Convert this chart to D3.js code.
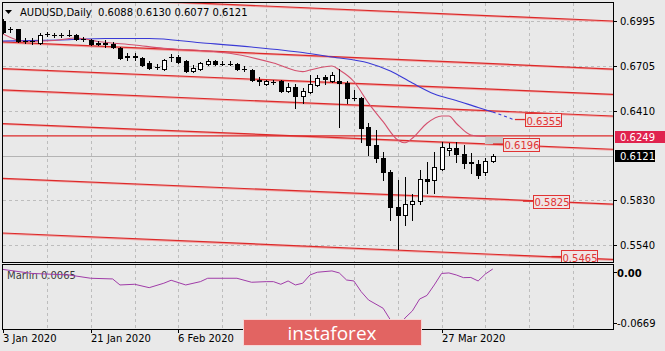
<!DOCTYPE html>
<html>
<head>
<meta charset="utf-8">
<script src="https://cdnjs.cloudflare.com/ajax/libs/d3/7.8.5/d3.min.js"></script>
<style>
    html, body { margin: 0; padding: 0; background: #e9e9e9; }
    svg { display: block; font-family: "DejaVu Sans", sans-serif; }
</style>
</head>
<body>
<div id="chart"></div>
<script>
// daily bars, AUDUSD
const dates = ["2020-01-03","2020-01-06","2020-01-07","2020-01-08","2020-01-09","2020-01-10","2020-01-13","2020-01-14","2020-01-15","2020-01-16",
    "2020-01-17","2020-01-20","2020-01-21","2020-01-22","2020-01-23","2020-01-24","2020-01-27","2020-01-28","2020-01-29","2020-01-30",
    "2020-01-31","2020-02-03","2020-02-04","2020-02-05","2020-02-06","2020-02-07","2020-02-10","2020-02-11","2020-02-12","2020-02-13",
    "2020-02-14","2020-02-17","2020-02-18","2020-02-19","2020-02-20","2020-02-21","2020-02-24","2020-02-25","2020-02-26","2020-02-27",
    "2020-02-28","2020-03-02","2020-03-03","2020-03-04","2020-03-05","2020-03-06","2020-03-09","2020-03-10","2020-03-11","2020-03-12",
    "2020-03-13","2020-03-16","2020-03-17","2020-03-18","2020-03-19","2020-03-20","2020-03-23","2020-03-24","2020-03-25","2020-03-26",
    "2020-03-27","2020-03-30","2020-03-31","2020-04-01","2020-04-02","2020-04-03","2020-04-06","2020-04-07"];

const open = [0.6995,0.6943,0.6940,0.6868,0.6865,0.6852,0.6911,0.6905,0.6904,0.6905,
    0.6901,0.6878,0.6874,0.6849,0.6849,0.6848,0.6820,0.6765,0.6765,0.6753,
    0.6724,0.6699,0.6681,0.6761,0.6761,0.6735,0.6670,0.6683,0.6716,0.6735,
    0.6717,0.6717,0.6716,0.6685,0.6677,0.6605,0.6586,0.6602,0.6607,0.6540,
    0.6564,0.6508,0.6536,0.6579,0.6629,0.6607,0.6605,0.6590,0.6495,0.6493,
    0.6309,0.6190,0.6103,0.6016,0.5789,0.5735,0.5806,0.5828,0.5969,0.5962,
    0.6032,0.6157,0.6168,0.6131,0.6076,0.6064,0.6012,0.6088];
const high = [0.7008,0.6956,0.6946,0.6885,0.6883,0.6915,0.6925,0.6918,0.6918,0.6936,
    0.6911,0.6891,0.6881,0.6862,0.6874,0.6859,0.6826,0.6784,0.6787,0.6761,
    0.6732,0.6716,0.6748,0.6781,0.6774,0.6742,0.6709,0.6729,0.6745,0.6742,
    0.6735,0.6735,0.6722,0.6703,0.6683,0.6631,0.6612,0.6615,0.6615,0.6590,
    0.6584,0.6560,0.6647,0.6644,0.6644,0.6662,0.6685,0.6607,0.6547,0.6501,
    0.6331,0.6287,0.6144,0.6027,0.5962,0.5984,0.5871,0.6027,0.6081,0.6146,
    0.6211,0.6203,0.6211,0.6190,0.6136,0.6092,0.6103,0.6130];
const low = [0.6917,0.6924,0.6859,0.6852,0.6846,0.6846,0.6895,0.6891,0.6891,0.6898,
    0.6874,0.6865,0.6839,0.6836,0.6824,0.6820,0.6748,0.6742,0.6742,0.6703,
    0.6683,0.6683,0.6674,0.6735,0.6720,0.6662,0.6664,0.6674,0.6709,0.6709,
    0.6706,0.6709,0.6677,0.6670,0.6605,0.6579,0.6579,0.6589,0.6534,0.6532,
    0.6432,0.6464,0.6527,0.6573,0.6586,0.6602,0.6309,0.6464,0.6482,0.6211,
    0.6125,0.6076,0.5962,0.5702,0.5512,0.5667,0.5702,0.5806,0.5876,0.5876,
    0.6027,0.6125,0.6081,0.6038,0.6006,0.5973,0.5995,0.6077];
const close = [0.6926,0.6940,0.6865,0.6865,0.6862,0.6906,0.6908,0.6903,0.6902,0.6902,
    0.6879,0.6876,0.6846,0.6847,0.6846,0.6826,0.6755,0.6761,0.6761,0.6709,
    0.6688,0.6696,0.6742,0.6759,0.6726,0.6670,0.6690,0.6722,0.6737,0.6716,
    0.6714,0.6714,0.6683,0.6682,0.6612,0.6612,0.6605,0.6599,0.6540,0.6568,
    0.6510,0.6540,0.6586,0.6623,0.6616,0.6644,0.6592,0.6493,0.6492,0.6298,
    0.6190,0.6103,0.6016,0.5789,0.5735,0.5804,0.5827,0.5969,0.5958,0.6045,
    0.6175,0.6168,0.6131,0.6071,0.6070,0.5995,0.6086,0.6121];

// slow moving average (blue), read at some bars
const blueIdx = [0, 8, 14, 20, 27, 34, 41, 45, 50, 53, 56, 59, 62, 65, 67];
const blueVal = [0.6865,0.6872,0.6881,0.6881,0.6854,0.6826,0.6790,0.6761,0.6722,0.6670,0.6592,0.6521,0.6479,0.6433,0.6404];
const blueFutIdx = [67, 68, 70];
const blueFutVal = [0.6404, 0.6388, 0.6352];

// fast moving average (pink)
const pinkIdx = [0, 3, 7, 10, 13, 18, 22, 27, 31, 37, 41, 42, 45, 46, 48, 50, 52, 54, 55, 56, 58, 60, 61, 62, 64, 66];
const pinkVal = [0.6911,0.6862,0.6868,0.6885,0.6862,0.6839,0.6818,0.6803,0.6785,0.6722,0.6666,0.6677,0.6703,0.6677,0.6602,
    0.6462,0.6341,0.6222,0.6204,0.6233,0.6331,0.6378,0.6378,0.6331,0.6255,0.6245];

// channel lines: price at first bar and at the right edge
const channelStart = [0.7166, 0.6859, 0.6686, 0.6547, 0.6329, 0.5973, 0.5618];
const channelEnd   = [0.6995, 0.6683, 0.6519, 0.6378, 0.6162, 0.5806, 0.5446];
const levelPrice = 0.6249;

// target labels
const targetPrice = [0.6355, 0.6196, 0.5825, 0.5465];
const targetIdx = [71.4, 68.4, 72.5, 76.4];

// Marlin oscillator
const marlinIdx = [0,4,9,12,15,16,18,20,22,23,25,27,28,32,34,36,37,38,39,40,41,42,43,45,46,47,48,49,50,52,53,54,55,56,57,58,59,60,61,62,63,64,65,66,67];
const marlinVal = [0.0014,-0.0032,-0.0049,-0.0087,-0.0095,-0.0164,-0.0156,-0.0195,-0.0144,-0.0110,-0.0164,-0.0126,-0.0087,-0.0087,-0.0133,
    -0.0126,-0.0126,-0.0156,-0.0118,-0.0164,-0.0144,-0.0049,-0.0018,-0.0003,-0.0026,-0.0107,-0.0118,-0.0241,-0.0336,-0.0431,
    -0.0565,-0.0669,-0.0542,-0.0462,-0.0325,-0.0284,-0.0164,-0.0032,-0.0026,-0.0049,-0.0080,-0.0078,-0.0118,-0.0038,0.0019];

const priceTicks = [0.6995, 0.6705, 0.6410, 0.6120, 0.5830, 0.5540];
const priceTickLabels = ["0.6995", "0.6705", "0.6410", "", "0.5830", "0.5540"];
// date labels that are not covered by the watermark
const dateTickIdx = [0, 12, 24, 60];
const dateTickLabels = ["3 Jan 2020", "21 Jan 2020", "6 Feb 2020", "27 Mar 2020"];
const bidPrice = 0.6121;
const header = "AUDUSD,Daily  0.6088 0.6130 0.6077 0.6121";

const W = 665, H = 351;
const plot = { left: 3, right: 613, top: 3, bottom: 262 };
const pane = { top: 265, bottom: 329 };
const visibleBars = 83.45;

const svg = d3.select("#chart").append("svg").attr("width", W).attr("height", H);
svg.append("rect").attr("width", W).attr("height", H).attr("fill", "#e9e9e9");

const x = d3.scaleLinear().domain([0, visibleBars]).range([plot.left, plot.right]);
const y = d3.scaleLinear().domain([0.5540, 0.6995]).range([245, 21]);
const yInd = d3.scaleLinear().domain([-0.0669, 0.0065]).range([pane.bottom, pane.top]);

const defs = svg.append("defs");
defs.append("clipPath").attr("id", "clipMain").append("rect")
    .attr("x", plot.left).attr("y", plot.top).attr("width", plot.right - plot.left).attr("height", plot.bottom - plot.top);
defs.append("clipPath").attr("id", "clipPane").append("rect")
    .attr("x", plot.left).attr("y", pane.top).attr("width", plot.right - plot.left).attr("height", pane.bottom - pane.top);

// grid
const gridIdx = d3.range(6, visibleBars, 6);
const grid = svg.append("g").attr("stroke", "#bdbdbd").attr("stroke-dasharray", "3,3").attr("stroke-width", 1);
gridIdx.forEach(i => {
    const gx = Math.round(x(i)) + 0.5;
    grid.append("line").attr("x1", gx).attr("x2", gx).attr("y1", plot.top).attr("y2", plot.bottom);
    grid.append("line").attr("x1", gx).attr("x2", gx).attr("y1", pane.top).attr("y2", pane.bottom);
});
priceTicks.forEach(p => {
    const gy = Math.round(y(p)) + 0.5;
    grid.append("line").attr("x1", plot.left).attr("x2", plot.right).attr("y1", gy).attr("y2", gy);
});

const main = svg.append("g").attr("clip-path", "url(#clipMain)");

// bid line
main.append("line")
    .attr("x1", plot.left).attr("x2", plot.right)
    .attr("y1", Math.round(y(bidPrice)) + 0.5).attr("y2", Math.round(y(bidPrice)) + 0.5)
    .attr("stroke", "#b4b4b4");

// channel lines
channelStart.forEach((p, k) => {
    main.append("line")
        .attr("x1", x(0)).attr("y1", y(p) + 0.8)
        .attr("x2", x(visibleBars)).attr("y2", y(channelEnd[k]) + 0.8)
        .attr("stroke", "#f0a4a4").attr("stroke-width", 1.4);
    main.append("line")
        .attr("x1", x(0)).attr("y1", y(p))
        .attr("x2", x(visibleBars)).attr("y2", y(channelEnd[k]))
        .attr("stroke", "#dc2a2a").attr("stroke-width", 1.2);
});
main.append("line")
    .attr("x1", plot.left).attr("x2", plot.right)
    .attr("y1", y(levelPrice)).attr("y2", y(levelPrice))
    .attr("stroke", "#dc2a2a").attr("stroke-width", 1.3);

// moving averages
const blueLine = d3.line().x((d, i) => x(blueIdx[i])).y(d => y(d)).curve(d3.curveMonotoneX);
main.append("path").attr("d", blueLine(blueVal))
    .attr("fill", "none").attr("stroke", "#3a3ad6").attr("stroke-width", 1.1);
const blueFut = d3.line().x((d, i) => x(blueFutIdx[i])).y(d => y(d));
main.append("path").attr("d", blueFut(blueFutVal))
    .attr("fill", "none").attr("stroke", "#3a3ad6").attr("stroke-width", 1.1).attr("stroke-dasharray", "3,3");

const pinkLine = d3.line().x((d, i) => x(pinkIdx[i])).y(d => y(d)).curve(d3.curveMonotoneX);
main.append("path").attr("d", pinkLine(pinkVal))
    .attr("fill", "none").attr("stroke", "#d4506e").attr("stroke-width", 1.1);

// candles
const candles = main.append("g");
dates.forEach((d, i) => {
    const cx = Math.round(x(i));
    candles.append("line")
        .attr("x1", cx + 0.5).attr("x2", cx + 0.5)
        .attr("y1", Math.round(y(high[i]))).attr("y2", Math.round(y(low[i])) + 1)
        .attr("stroke", "#000");
    const top = Math.round(y(Math.max(open[i], close[i])));
    const bot = Math.round(y(Math.min(open[i], close[i])));
    if (bot - top < 1) {
        candles.append("line")
            .attr("x1", cx - 2).attr("x2", cx + 3)
            .attr("y1", top + 0.5).attr("y2", top + 0.5)
            .attr("stroke", "#000");
    } else {
        candles.append("rect")
            .attr("x", cx - 1.5).attr("y", top + 0.5)
            .attr("width", 4).attr("height", bot - top)
            .attr("fill", close[i] >= open[i] ? "#ffffff" : "#000000")
            .attr("stroke", "#000");
    }
});

// target labels
const labels = main.append("g");
targetPrice.forEach((p, k) => {
    const bx = x(targetIdx[k]);
    const by = y(p);
    if (k === 1) {
        labels.append("rect").attr("x", bx - 18).attr("y", by - 7)
            .attr("width", 18).attr("height", 7).attr("fill", "#c9c9c9");
    }
    labels.append("line").attr("x1", bx - 10).attr("x2", bx).attr("y1", by).attr("y2", by)
        .attr("stroke", "#dc2a2a").attr("stroke-width", 1.3);
    labels.append("rect").attr("x", Math.round(bx) + 0.5).attr("y", Math.round(by - 6.5) + 0.5)
        .attr("width", 36).attr("height", 13)
        .attr("fill", "#efe4e4").attr("stroke", "#e03434");
    labels.append("text").attr("x", Math.round(bx) + 1.5).attr("y", Math.round(by) + 4.5)
        .attr("font-size", 10).attr("fill", "#e03434").text(p.toFixed(4));
});

// Marlin pane
const paneG = svg.append("g").attr("clip-path", "url(#clipPane)");
const marlinLine = d3.line().x((d, i) => x(marlinIdx[i])).y(d => yInd(d));
paneG.append("text").attr("x", 7).attr("y", 278.5).attr("font-size", 10).attr("fill", "#3a3a3a").text("Marlin 0.0065");
paneG.append("path").attr("d", marlinLine(marlinVal))
    .attr("fill", "none").attr("stroke", "#a03ca8").attr("stroke-width", 1);

// frames
svg.append("rect").attr("x", plot.left - 0.5).attr("y", plot.top - 0.5)
    .attr("width", plot.right - plot.left + 1).attr("height", plot.bottom - plot.top + 1)
    .attr("fill", "none").attr("stroke", "#000");
svg.append("rect").attr("x", plot.left - 0.5).attr("y", pane.top - 0.5)
    .attr("width", plot.right - plot.left + 1).attr("height", pane.bottom - pane.top + 1)
    .attr("fill", "none").attr("stroke", "#000");

// price axis
const axisR = svg.append("g").attr("font-size", 10).attr("fill", "#000");
priceTicks.forEach((p, k) => {
    if (!priceTickLabels[k]) return;
    const ty = Math.round(y(p)) + 0.5;
    axisR.append("line").attr("x1", plot.right).attr("x2", plot.right + 4).attr("y1", ty).attr("y2", ty).attr("stroke", "#000");
    axisR.append("text").attr("x", 620).attr("y", ty + 3.5).text(priceTickLabels[k]);
});
axisR.append("rect").attr("x", 615).attr("y", Math.round(y(levelPrice)) - 5).attr("width", 50).attr("height", 12).attr("fill", "#e0234e");
axisR.append("text").attr("x", 620).attr("y", Math.round(y(levelPrice)) + 4.5).attr("fill", "#fff").text(levelPrice.toFixed(4));
axisR.append("rect").attr("x", 615).attr("y", Math.round(y(bidPrice)) - 6).attr("width", 40).attr("height", 12).attr("fill", "#000");
axisR.append("text").attr("x", 620).attr("y", Math.round(y(bidPrice)) + 3.5).attr("fill", "#fff").text(bidPrice.toFixed(4));

// pane axis
axisR.append("line").attr("x1", plot.right).attr("x2", plot.right + 4).attr("y1", 272.5).attr("y2", 272.5).attr("stroke", "#000");
axisR.append("text").attr("x", 617).attr("y", 276.5).attr("font-weight", "bold").text("0.00");
axisR.append("line").attr("x1", plot.right).attr("x2", plot.right + 4).attr("y1", 323.5).attr("y2", 323.5).attr("stroke", "#000");
axisR.append("text").attr("x", 617).attr("y", 326.5).text("-0.0669");

// date axis
const axisB = svg.append("g").attr("font-size", 10).attr("fill", "#000");
dateTickIdx.forEach((i, k) => {
    const tx = Math.round(x(i)) + 0.5;
    axisB.append("line").attr("x1", tx).attr("x2", tx).attr("y1", pane.bottom).attr("y2", pane.bottom + 4).attr("stroke", "#000");
    axisB.append("text").attr("x", tx - 0.5).attr("y", 342).text(dateTickLabels[k]);
});

// header
svg.append("path").attr("d", "M5,10 L12,10 L8.5,14 Z").attr("fill", "#000");
svg.append("text").attr("x", 20).attr("y", 15.5).attr("font-size", 10).attr("fill", "#000")
    .style("white-space", "pre").text(header);

// watermark
svg.append("rect").attr("x", 243.5).attr("y", 319.5).attr("width", 178).attr("height", 26)
    .attr("fill", "#e26462").attr("stroke", "#f6d6d6");
svg.append("text").attr("x", 332).attr("y", 340).attr("text-anchor", "middle")
    .attr("font-family", "'Open Sans', sans-serif").attr("font-size", 19).attr("fill", "#fff")
    .text("instaforex");
</script>
</body>
</html>
